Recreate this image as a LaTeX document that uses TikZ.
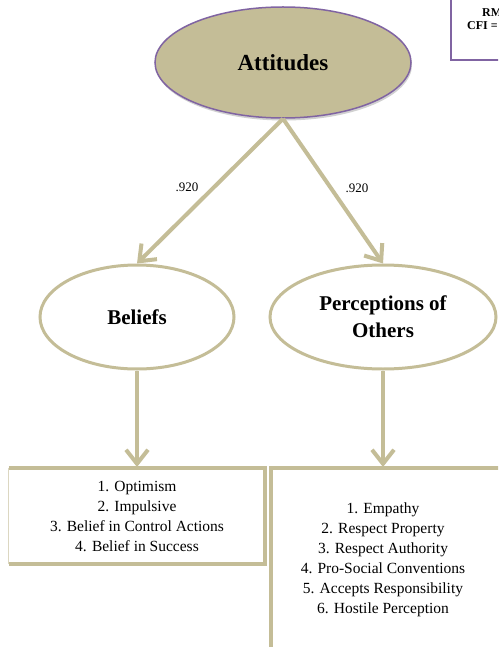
\documentclass[tikz,border=0pt]{standalone}
\usepackage{fontspec}
\setmainfont{Liberation Serif}
\usetikzlibrary{shapes.geometric,arrows.meta}
\definecolor{tan}{HTML}{C4BD97}
\definecolor{plum}{HTML}{8064A2}
\tikzset{
  latent/.style={ellipse, draw=tan, line width=3pt, fill=white, align=center,
    font=\fontsize{21}{27}\selectfont\bfseries, inner sep=0pt},
  load/.style={draw=tan, line width=4pt, -{Straight Barb[length=14pt,width=22pt]}},
  wt/.style={font=\fontsize{13}{15}\selectfont},
  items/.style={align=center, font=\fontsize{15.5}{20}\selectfont, inner sep=0pt},
  frame/.style={draw=tan, line width=4pt},
}
\begin{document}
\begin{tikzpicture}[x=1pt,y=-1pt]
\clip (0,0) rectangle (498,647);
\fill[white] (0,0) rectangle (498,647);

% fit-index box, cut off at the corner
\draw[plum, line width=2pt] (451,-10) rectangle (530,60);
\node[anchor=base west, font=\fontsize{12}{14}\selectfont\bfseries, inner sep=0pt] (rm) at (482,17) {RM};
\node[anchor=base west, font=\fontsize{12}{14}\selectfont\bfseries, inner sep=0pt] (cfi) at (467,30) {CFI =};

% higher-order factor
\fill[black!18] (284,65) ellipse [x radius=128, y radius=55.5];
\node[ellipse, fill=tan, draw=plum, line width=1.5pt, minimum width=256, minimum height=111,
  font=\fontsize{23}{27}\selectfont\bfseries] (att) at (283,62.5) {Attitudes};

% first-order factors
\node[latent, minimum width=194, minimum height=104] (bel) at (137,317) {Beliefs};
\node[latent, minimum width=226, minimum height=104] (per) at (383,317) {Perceptions of\\Others};

% loadings
\draw[load] (att.south) -- (bel.north);
\draw[load] (att.south) -- (per.north);
\node[wt] (w1) at (187,187) {.920};
\node[wt] (w2) at (357,188) {.920};

% indicator boxes
\node[items, minimum width=256, minimum height=96] (lb) at (137,516)
  {1. Optimism\\2. Impulsive\\3. Belief in Control Actions\\4. Belief in Success};
\draw[frame] (lb.north west) -- (lb.north east) -- (lb.south east) -- (lb.south west);
\draw[tan!60, line width=1pt] (lb.north west) -- (lb.south west);

\coordinate (rbtop) at (271,468);
\draw[frame] (271,660) -- (rbtop) -- (520,468);
\node[items] (rb) at (383,560)
  {1. Empathy\\2. Respect Property\\3. Respect Authority\\4. Pro-Social Conventions\\5. Accepts Responsibility\\6. Hostile Perception};

\coordinate (lbtop) at (137,467);
\coordinate (rbarrow) at (383,467);
\draw[load] (bel.south) -- (lbtop);
\draw[load] (per.south) -- (rbarrow);
\end{tikzpicture}
\end{document}
